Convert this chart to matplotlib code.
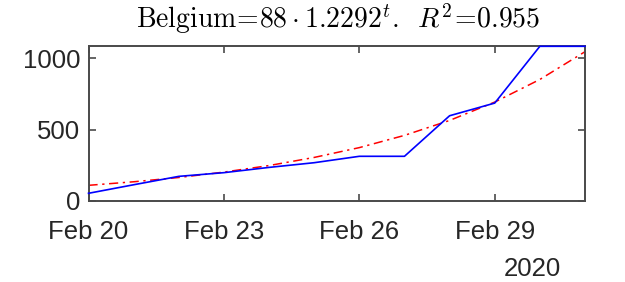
import numpy as np
import matplotlib
matplotlib.use("Agg")
import matplotlib.pyplot as plt
import matplotlib.dates as mdates

# daily values, Feb 20 .. Mar 2 2020
days = np.arange(np.datetime64("2020-02-20"), np.datetime64("2020-03-03"))
cases = [52, 112, 171, 197, 234, 267, 312, 312, 597, 686, 1085, 1085]
# fitted curve 88*1.2292^t at t = 1..12
fit = [108, 133, 163, 201, 247, 304, 373, 459, 564, 693, 852, 1047]
tick_days = ["2020-02-20", "2020-02-23", "2020-02-26", "2020-02-29"]

plt.rcParams["mathtext.fontset"] = "cm"
plt.rcParams["font.family"] = ["Liberation Sans", "DejaVu Sans"]

W, H = 625, 282
fig = plt.figure(figsize=(W / 100, H / 100), dpi=100)
ax = fig.add_axes([88.5 / W, 1 - 200.7 / H, (585 - 88.5) / W, (200.7 - 46.3) / H])

x = days.astype("datetime64[D]").astype(object)
ax.plot(x, cases, color="#0000ff", lw=1.2, clip_on=False, zorder=3)
ax.plot(x, fit, color="#ff0000", lw=1.1, ls=(0, (6, 3, 1.5, 3)))

ax.set_xlim(x[0], x[-1])
ax.set_ylim(0, max(cases))
ax.set_xticks([np.datetime64(d).astype(object) for d in tick_days])
ax.xaxis.set_major_formatter(mdates.DateFormatter("%b %-d"))
ax.set_yticks([0, 500, 1000])

axcol = "#4a4a4a"
for s in ax.spines.values():
    s.set_color(axcol)
    s.set_linewidth(1.4)
ax.tick_params(direction="in", length=5, width=1.2, color=axcol,
               top=True, right=True, labelsize=18.5, labelcolor="#262626", pad=6)
ax.tick_params(axis="x", pad=14)

fig.text(532 / W, 1 - 276 / H, "2020", fontsize=18.5, color="#262626",
         ha="center", va="baseline")
fig.text(338 / W, 1 - 28.5 / H,
         r"$\mathrm{Belgium}\!=\!88\cdot 1.2292^{t}.\;\; R^{2}\!=\!0.955$",
         fontsize=20, ha="center", va="baseline")

fig.savefig("out.png", dpi=100)
